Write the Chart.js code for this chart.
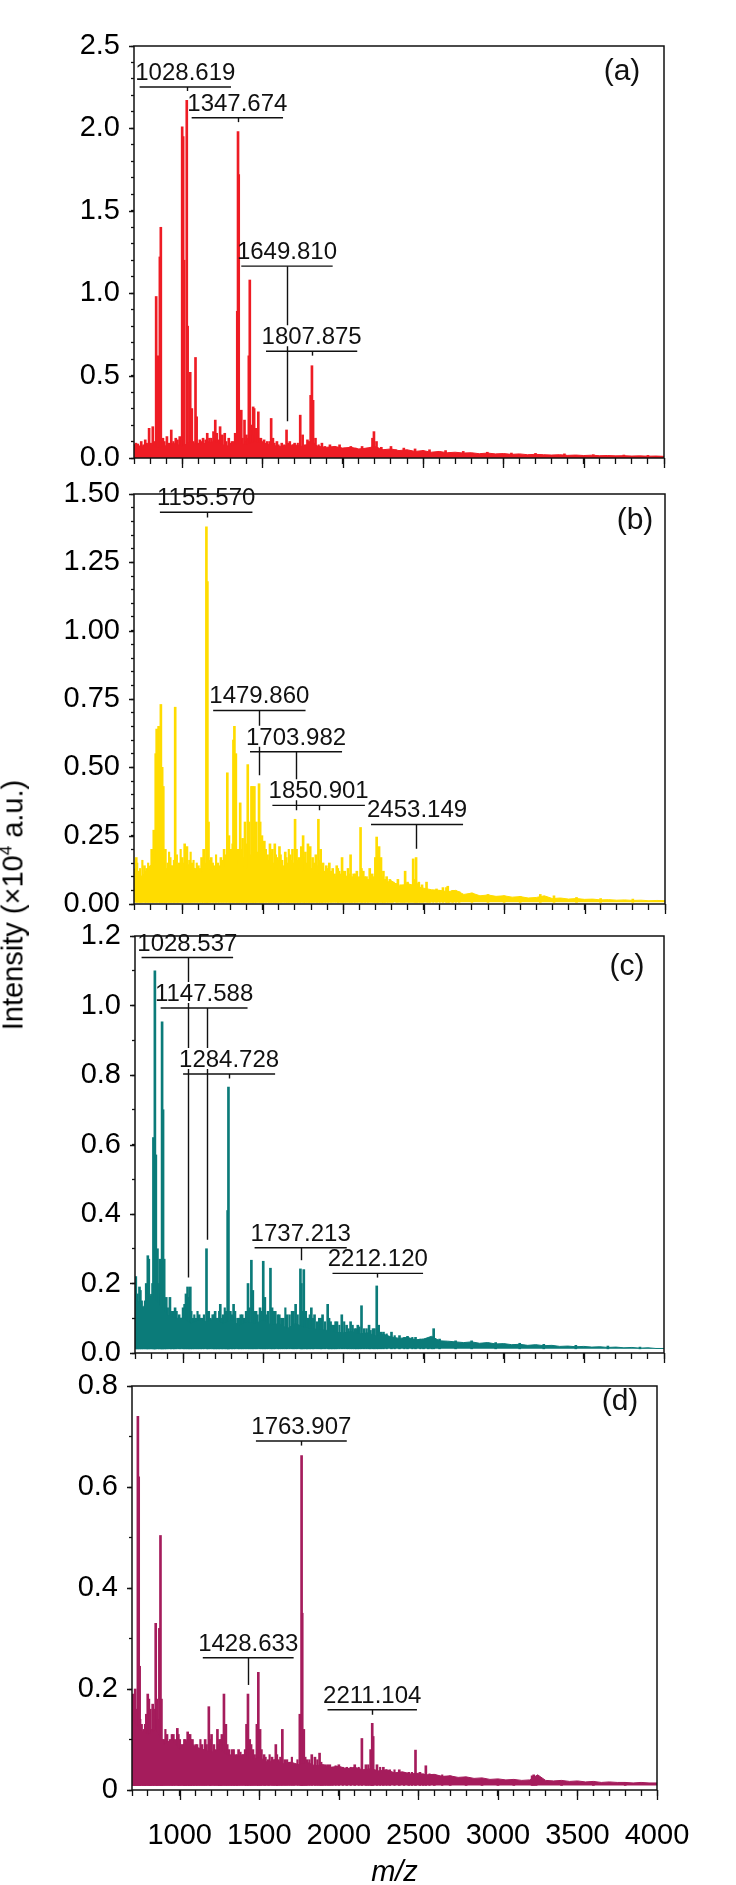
<!DOCTYPE html>
<html>
<head>
<meta charset="utf-8">
<script src="https://cdn.jsdelivr.net/npm/chart.js@4.4.1/dist/chart.umd.min.js"></script>
<style>
  body { margin: 0; background: #fff; }
  #wrap { position: relative; width: 736px; height: 1885px; overflow: hidden; background: #fff; }
  #wrap canvas { position: absolute; left: 0; }
  #ytitle {
    position: absolute; left: 13px; top: 905px;
    font: 29px 'Liberation Sans', Arial, sans-serif; line-height: 1; white-space: nowrap;
    transform: translate(-50%, -50%) rotate(-90deg);
  }
  #ytitle sup { font-size: 17px; vertical-align: 11px; line-height: 0; }
</style>
</head>
<body>
<div id="wrap">
  <canvas id="panelA"></canvas>
  <canvas id="panelB"></canvas>
  <canvas id="panelC"></canvas>
  <canvas id="panelD"></canvas>
  <div id="ytitle">Intensity (×10<sup>4</sup> a.u.)</div>
</div>
<script>
// m/z grid for the baseline noise envelope
const noiseMz = [700,750,800,850,900,950,1000,1050,1100,1150,1200,1250,1300,1350,1400,1450,1500,1550,1600,1650,
  1700,1750,1800,1850,1900,1950,2000,2050,2100,2150,2200,2250,2300,2350,2400,2450,2500,2550,2600,2650,
  2700,2750,2800,2850,2900,2950,3000,3050,3100,3150,3200,3250,3300,3350,3400,3450,3500,3550,3600,3650,
  3700,3750,3800,3850,3900,3950,4000];

// noise envelope (upper edge) per spectrum, x10^4 a.u.
const noiseA = [0.08,0.07,0.085,0.06,0.075,0.09,0.07,0.1,0.08,0.09,0.1,0.08,0.07,0.09,0.08,0.1,0.09,0.08,0.07,0.075,
  0.08,0.07,0.09,0.07,0.065,0.07,0.06,0.065,0.055,0.06,0.07,0.05,0.055,0.045,0.05,0.04,0.045,0.035,0.04,0.032,
  0.035,0.03,0.032,0.026,0.03,0.025,0.027,0.022,0.025,0.02,0.022,0.02,0.018,0.02,0.016,0.018,0.015,0.017,0.014,0.015,
  0.013,0.014,0.012,0.013,0.011,0.012,0.01];
const noiseB = [0.13,0.1,0.14,0.16,0.11,0.14,0.12,0.15,0.11,0.13,0.12,0.14,0.13,0.15,0.13,0.16,0.12,0.14,0.13,0.12,
  0.14,0.12,0.13,0.11,0.12,0.1,0.11,0.09,0.1,0.085,0.1,0.075,0.085,0.065,0.075,0.065,0.058,0.052,0.05,0.045,
  0.05,0.035,0.04,0.03,0.033,0.028,0.03,0.025,0.027,0.022,0.024,0.03,0.02,0.022,0.018,0.02,0.017,0.018,0.015,0.016,
  0.014,0.015,0.013,0.014,0.012,0.013,0.012];
const noiseC = [0.16,0.13,0.17,0.14,0.11,0.1,0.1,0.085,0.095,0.09,0.1,0.085,0.095,0.08,0.09,0.085,0.095,0.08,0.085,0.07,
  0.085,0.075,0.07,0.068,0.065,0.06,0.058,0.062,0.055,0.058,0.05,0.054,0.046,0.042,0.045,0.038,0.04,0.048,0.035,0.034,
  0.032,0.03,0.032,0.028,0.03,0.026,0.027,0.024,0.025,0.022,0.024,0.021,0.022,0.019,0.02,0.018,0.019,0.017,0.018,0.016,
  0.017,0.015,0.016,0.014,0.015,0.013,0.013];
const noiseD = [0.14,0.12,0.11,0.12,0.09,0.1,0.08,0.1,0.085,0.08,0.075,0.08,0.07,0.065,0.07,0.06,0.065,0.055,0.06,0.052,
  0.055,0.05,0.055,0.048,0.05,0.045,0.047,0.042,0.045,0.04,0.042,0.038,0.04,0.034,0.036,0.032,0.033,0.03,0.031,0.027,
  0.028,0.025,0.026,0.023,0.024,0.021,0.022,0.02,0.021,0.019,0.02,0.03,0.019,0.018,0.019,0.017,0.018,0.016,0.017,0.015,
  0.016,0.015,0.015,0.014,0.015,0.014,0.014];

// peaks: [m/z, intensity]
const peaksA = [[712,0.09],[745,0.1],[770,0.11],[794,0.18],[817,0.19],[838,0.98],[848,0.62],[861,1.22],[867,1.4],[880,0.12],
  [905,0.13],[932,0.17],[960,0.12],[985,0.13],[1000,2.01],[1006,1.95],[1012,1.2],[1028.6,2.17],[1034,0.8],[1050,0.52],
  [1060,0.3],[1083,0.61],[1090,0.25],[1110,0.11],[1130,0.12],[1156,0.15],[1170,0.12],[1195,0.16],[1206,0.23],[1215,0.15],
  [1236,0.19],[1250,0.14],[1265,0.15],[1290,0.12],[1310,0.1],[1330,0.15],[1343,0.89],[1347.7,1.98],[1352,1.72],[1368,0.29],
  [1375,0.12],[1388,0.23],[1400,0.14],[1415,0.62],[1421,1.08],[1430,0.2],[1442,0.31],[1448,0.3],[1460,0.18],[1474,0.28],
  [1490,0.12],[1510,0.11],[1530,0.1],[1554,0.24],[1565,0.12],[1590,0.1],[1620,0.09],[1649.8,0.17],[1670,0.1],[1700,0.09],
  [1735,0.26],[1750,0.14],[1780,0.11],[1800,0.38],[1807.9,0.56],[1815,0.35],[1830,0.12],[1870,0.09],[1920,0.08],[1980,0.08],
  [2050,0.07],[2120,0.07],[2185,0.12],[2194,0.16],[2210,0.1],[2240,0.065],[2300,0.07],[2380,0.06],[2450,0.055],[2540,0.05],
  [2640,0.045],[2750,0.04],[2900,0.035],[3050,0.03],[3200,0.028],[3380,0.025],[3560,0.02],[3750,0.018],[3900,0.016]];
const peaksB = [[714,0.17],[730,0.12],[745,0.1],[765,0.14],[779,0.13],[795,0.11],[810,0.2],[823,0.27],[835,0.55],[841,0.64],
  [853,0.65],[861,0.56],[867,0.73],[875,0.5],[882,0.43],[895,0.2],[910,0.15],[925,0.17],[940,0.14],[956,0.72],
  [965,0.18],[980,0.15],[1000,0.17],[1015,0.22],[1029,0.21],[1045,0.16],[1060,0.15],[1080,0.13],[1100,0.14],[1120,0.17],
  [1133,0.2],[1150,1.38],[1156,1.18],[1163,0.3],[1180,0.17],[1200,0.14],[1220,0.15],[1240,0.17],[1260,0.2],[1280,0.48],
  [1290,0.25],[1305,0.2],[1318,0.6],[1324,0.65],[1333,0.55],[1345,0.2],[1360,0.37],[1375,0.24],[1390,0.3],[1407,0.51],
  [1415,0.3],[1430,0.43],[1436,0.43],[1448,0.43],[1460,0.3],[1477,0.44],[1484,0.3],[1495,0.25],[1510,0.23],[1530,0.18],
  [1545,0.22],[1560,0.2],[1575,0.22],[1590,0.17],[1604,0.21],[1620,0.16],[1640,0.19],[1655,0.15],[1670,0.18],[1685,0.2],
  [1701,0.31],[1710,0.2],[1725,0.17],[1740,0.21],[1751,0.25],[1765,0.19],[1781,0.22],[1795,0.21],[1810,0.17],[1830,0.18],
  [1846,0.31],[1860,0.2],[1875,0.15],[1895,0.14],[1914,0.15],[1935,0.13],[1960,0.14],[1975,0.12],[1993,0.17],[2010,0.12],
  [2030,0.13],[2046,0.18],[2065,0.11],[2085,0.12],[2108,0.28],[2125,0.12],[2145,0.1],[2165,0.13],[2180,0.11],[2200,0.17],
  [2208,0.245],[2223,0.21],[2235,0.17],[2250,0.12],[2270,0.1],[2290,0.09],[2310,0.08],[2340,0.09],[2365,0.07],[2385,0.12],
  [2400,0.08],[2420,0.07],[2435,0.165],[2453,0.17],[2470,0.08],[2490,0.07],[2518,0.08],[2540,0.05],[2580,0.055],[2620,0.06],
  [2650,0.065],[2680,0.05],[2720,0.045],[2800,0.04],[2900,0.035],[3000,0.03],[3100,0.028],[3225,0.035],[3310,0.03],[3450,0.024],
  [3600,0.02],[3800,0.018]];
const peaksC = [[705,0.22],[715,0.17],[728,0.19],[741,0.15],[755,0.13],[770,0.2],[780,0.28],[786,0.27],[800,0.14],[815,0.62],
  [824,1.1],[830,0.57],[840,0.3],[855,0.27],[869,0.953],[875,0.7],[882,0.27],[895,0.16],[918,0.16],[935,0.12],
  [950,0.13],[975,0.11],[1000,0.13],[1018,0.17],[1028,0.19],[1045,0.19],[1060,0.1],[1080,0.1],[1100,0.11],[1120,0.1],
  [1146,0.3],[1160,0.12],[1185,0.11],[1200,0.12],[1215,0.1],[1232,0.14],[1250,0.11],[1270,0.12],[1278,0.41],[1283,0.765],
  [1295,0.12],[1315,0.14],[1340,0.1],[1360,0.11],[1380,0.1],[1405,0.2],[1426,0.267],[1435,0.18],[1455,0.12],[1480,0.13],
  [1500,0.264],[1510,0.16],[1530,0.12],[1545,0.244],[1555,0.13],[1575,0.12],[1600,0.11],[1625,0.1],[1650,0.11],[1680,0.12],
  [1702,0.14],[1732,0.242],[1738,0.2],[1753,0.24],[1765,0.12],[1780,0.1],[1800,0.13],[1820,0.11],[1850,0.1],[1870,0.11],
  [1902,0.14],[1920,0.09],[1940,0.08],[1960,0.09],[1990,0.11],[2020,0.08],[2045,0.09],[2070,0.07],[2090,0.08],[2113,0.136],
  [2130,0.07],[2160,0.08],[2185,0.07],[2208,0.193],[2220,0.08],[2250,0.06],[2300,0.06],[2350,0.05],[2400,0.048],[2450,0.045],
  [2500,0.04],[2530,0.04],[2563,0.07],[2600,0.04],[2700,0.035],[2800,0.035],[2950,0.03],[3100,0.028],[3250,0.025],[3450,0.022],
  [3650,0.02],[3850,0.017]];
const peaksD = [[705,0.19],[710,0.15],[720,0.2],[730,0.15],[737,0.74],[742,0.62],[748,0.245],[760,0.13],[775,0.12],[790,0.15],
  [799,0.19],[806,0.18],[815,0.16],[830,0.17],[849,0.33],[855,0.18],[872,0.32],[879,0.504],[885,0.18],[900,0.1],
  [920,0.11],[940,0.1],[960,0.11],[985,0.122],[1000,0.1],[1020,0.09],[1035,0.1],[1050,0.115],[1065,0.11],[1080,0.1],
  [1100,0.09],[1120,0.08],[1140,0.09],[1160,0.1],[1183,0.165],[1200,0.11],[1215,0.09],[1237,0.12],[1250,0.1],[1265,0.11],
  [1278,0.19],[1290,0.13],[1310,0.08],[1330,0.08],[1350,0.07],[1370,0.08],[1395,0.07],[1420,0.13],[1429,0.19],[1440,0.1],
  [1460,0.08],[1485,0.13],[1494,0.233],[1505,0.12],[1530,0.07],[1555,0.06],[1580,0.065],[1604,0.09],[1620,0.06],[1645,0.12],
  [1660,0.06],[1690,0.055],[1720,0.05],[1755,0.15],[1766,0.662],[1770,0.35],[1780,0.12],[1800,0.06],[1830,0.07],[1850,0.065],
  [1879,0.073],[1900,0.05],[1930,0.05],[1960,0.045],[2000,0.05],[2050,0.045],[2100,0.05],[2145,0.102],[2170,0.05],[2200,0.08],
  [2210,0.132],[2216,0.106],[2240,0.05],[2280,0.045],[2320,0.04],[2380,0.04],[2440,0.035],[2482,0.079],[2510,0.035],[2547,0.048],
  [2600,0.03],[2700,0.028],[2800,0.025],[2900,0.022],[3000,0.02],[3100,0.02],[3215,0.028],[3225,0.03],[3240,0.026],[3400,0.018],
  [3600,0.016],[3800,0.015]];

// small noise spikes ("grass") between the main peaks: [m/z, intensity]
const grassA = [[705,0.08],[725,0.085],[758,0.08],[780,0.09],[805,0.09],[828,0.1],[890,0.1],[918,0.09],[945,0.1],[972,0.11],
  [995,0.12],[1070,0.1],[1100,0.09],[1120,0.1],[1145,0.11],[1160,0.1],[1182,0.12],[1225,0.11],[1245,0.13],[1275,0.1],
  [1300,0.09],[1320,0.1],[1360,0.12],[1395,0.1],[1408,0.12],[1437,0.14],[1468,0.15],[1480,0.12],[1500,0.1],[1520,0.09],
  [1545,0.1],[1575,0.09],[1600,0.08],[1635,0.08],[1660,0.09],[1690,0.08],[1720,0.09],[1765,0.08],[1790,0.1],[1825,0.09],
  [1850,0.08],[1890,0.07],[1950,0.07],[2010,0.06],[2080,0.06],[2150,0.06],[2260,0.05],[2330,0.05],[2420,0.045],[2500,0.045]];
const grassB = [[720,0.15],[738,0.13],[752,0.16],[772,0.12],[788,0.15],[803,0.14],[818,0.18],[890,0.16],[902,0.13],[918,0.19],
  [932,0.14],[948,0.16],[972,0.14],[990,0.2],[1008,0.15],[1022,0.17],[1038,0.14],[1052,0.19],[1070,0.16],[1090,0.15],
  [1110,0.13],[1126,0.16],[1142,0.15],[1170,0.16],[1190,0.15],[1210,0.18],[1230,0.14],[1250,0.16],[1270,0.18],[1298,0.17],
  [1312,0.22],[1340,0.19],[1352,0.16],[1368,0.2],[1382,0.17],[1398,0.22],[1422,0.18],[1442,0.25],[1455,0.2],[1468,0.19],
  [1490,0.22],[1502,0.17],[1520,0.2],[1538,0.16],[1552,0.19],[1568,0.15],[1582,0.18],[1597,0.16],[1612,0.18],[1630,0.14],
  [1648,0.17],[1662,0.2],[1678,0.16],[1693,0.15],[1718,0.16],[1733,0.14],[1758,0.17],[1773,0.15],[1788,0.16],[1803,0.13],
  [1820,0.15],[1838,0.14],[1853,0.16],[1868,0.13],[1885,0.12],[1905,0.13],[1925,0.12],[1948,0.11],[1968,0.13],[1985,0.11],
  [2000,0.12],[2020,0.1],[2040,0.11],[2055,0.1],[2075,0.11],[2095,0.09],[2115,0.13],[2135,0.1],[2155,0.09],[2190,0.1],
  [2215,0.13],[2245,0.1],[2260,0.09],[2280,0.08],[2300,0.07],[2330,0.075],[2355,0.07],[2375,0.065],[2410,0.06],[2445,0.09],
  [2460,0.075],[2480,0.06],[2500,0.055],[2530,0.05],[2560,0.045],[2600,0.05],[2640,0.06],[2660,0.045],[2700,0.04]];
const grassC = [[710,0.16],[722,0.14],[735,0.18],[748,0.13],[762,0.15],[775,0.17],[792,0.16],[808,0.2],[820,0.22],[848,0.2],
  [862,0.17],[890,0.14],[905,0.13],[925,0.12],[942,0.11],[960,0.12],[985,0.1],[1008,0.14],[1036,0.16],[1052,0.12],
  [1070,0.11],[1090,0.12],[1110,0.1],[1130,0.11],[1152,0.12],[1172,0.1],[1192,0.11],[1208,0.1],[1225,0.12],[1242,0.1],
  [1260,0.13],[1305,0.11],[1325,0.12],[1350,0.1],[1370,0.11],[1392,0.12],[1415,0.13],[1445,0.12],[1465,0.11],[1490,0.12],
  [1520,0.11],[1565,0.12],[1590,0.11],[1612,0.1],[1638,0.13],[1665,0.11],[1690,0.12],[1715,0.11],[1745,0.12],[1772,0.1],
  [1790,0.11],[1810,0.1],[1835,0.09],[1860,0.1],[1885,0.09],[1912,0.1],[1930,0.08],[1950,0.09],[1975,0.08],[2005,0.09],
  [2032,0.07],[2058,0.08],[2080,0.07],[2100,0.075],[2145,0.07],[2170,0.065],[2195,0.07],[2235,0.06],[2270,0.055],[2320,0.05],
  [2380,0.045],[2430,0.045],[2480,0.04],[2550,0.045]];
const grassD = [[715,0.13],[725,0.16],[752,0.14],[768,0.11],[782,0.13],[812,0.15],[822,0.12],[838,0.16],[862,0.14],[892,0.1],
  [910,0.12],[930,0.09],[950,0.11],[970,0.1],[993,0.11],[1010,0.09],[1028,0.1],[1042,0.09],[1058,0.11],[1072,0.1],
  [1090,0.085],[1110,0.09],[1130,0.1],[1150,0.08],[1170,0.09],[1192,0.1],[1225,0.08],[1245,0.09],[1258,0.1],[1300,0.09],
  [1320,0.07],[1340,0.08],[1360,0.07],[1382,0.075],[1410,0.08],[1450,0.09],[1472,0.07],[1515,0.08],[1540,0.065],[1565,0.07],
  [1592,0.06],[1612,0.07],[1632,0.065],[1675,0.06],[1705,0.065],[1740,0.06],[1790,0.065],[1815,0.06],[1865,0.06],[1890,0.055],
  [1915,0.05],[1945,0.05],[1980,0.048],[2025,0.045],[2075,0.045],[2125,0.045],[2185,0.05],[2260,0.045],[2300,0.04],[2350,0.04],
  [2410,0.035],[2460,0.035],[2530,0.032],[2570,0.032],[2650,0.03]];

// peak labels: text, line from underline (lineY) down to tipY at m/z, underline spans from..to (m/z)
const labelsA = [
  { text: '1028.619', mz: 1028.619, lineY: 2.251, tipY: 2.227, from: 735, to: 1304 },
  { text: '1347.674', mz: 1347.674, lineY: 2.065, tipY: 2.038, from: 1059, to: 1628 },
  { text: '1649.810', mz: 1649.810, lineY: 1.164, tipY: 0.223, from: 1368, to: 1937 },
  { text: '1807.875', mz: 1807.875, lineY: 0.648, tipY: 0.621, from: 1522, to: 2090 }
];
const labelsB = [
  { text: '1155.570', mz: 1155.570, lineY: 1.433, tipY: 1.414, from: 861, to: 1436 },
  { text: '1479.860', mz: 1479.860, lineY: 0.708, tipY: 0.471, from: 1192, to: 1766 },
  { text: '1703.982', mz: 1703.982, lineY: 0.557, tipY: 0.343, from: 1421, to: 1993 },
  { text: '1850.901', mz: 1850.901, lineY: 0.361, tipY: 0.343, from: 1560, to: 2135 },
  { text: '2453.149', mz: 2453.149, lineY: 0.291, tipY: 0.202, from: 2173, to: 2745 }
];
const labelsC = [
  { text: '1028.537', mz: 1028.537, lineY: 1.138, tipY: 0.217, from: 741, to: 1312 },
  { text: '1147.588', mz: 1147.588, lineY: 0.993, tipY: 0.326, from: 860, to: 1402 },
  { text: '1284.728', mz: 1284.728, lineY: 0.803, tipY: 0.790, from: 1000, to: 1574 },
  { text: '1737.213', mz: 1737.213, lineY: 0.303, tipY: 0.267, from: 1446, to: 2021 },
  { text: '2212.120', mz: 2212.120, lineY: 0.229, tipY: 0.217, from: 1932, to: 2497 }
];
const labelsD = [
  { text: '1763.907', mz: 1763.907, lineY: 0.691, tipY: 0.682, from: 1479, to: 2050 },
  { text: '1428.633', mz: 1428.633, lineY: 0.262, tipY: 0.208, from: 1145, to: 1716 },
  { text: '2211.104', mz: 2211.104, lineY: 0.159, tipY: 0.149, from: 1929, to: 2491 }
];

const xMajorTicks = [1000, 1500, 2000, 2500, 3000, 3500, 4000];
const FONT = "'Liberation Sans', Arial, sans-serif";

// frame, longer major ticks, panel letter and peak labels
const decoPlugin = {
  id: 'deco',
  afterDraw(chart, args, opts) {
    const ctx = chart.ctx;
    const area = chart.chartArea;
    const xs = chart.scales.x, ys = chart.scales.y;
    ctx.save();
    ctx.strokeStyle = '#111';
    ctx.fillStyle = '#111';

    // major ticks
    ctx.lineWidth = 1.3;
    ctx.beginPath();
    xMajorTicks.forEach(v => {
      const px = Math.round(xs.getPixelForValue(v)) + 0.5;
      ctx.moveTo(px, area.bottom); ctx.lineTo(px, area.bottom + 10);
    });
    opts.yMajor.forEach(v => {
      const py = Math.round(ys.getPixelForValue(v)) + 0.5;
      ctx.moveTo(area.left, py); ctx.lineTo(area.left - 5, py);
    });
    ctx.stroke();

    // frame
    ctx.lineWidth = 1.5;
    ctx.strokeRect(area.left, area.top, area.right - area.left, area.bottom - area.top);

    // peak labels
    ctx.font = '24px ' + FONT;
    const boxes = opts.labels.map(l => {
      const x0 = xs.getPixelForValue(l.from), x1 = xs.getPixelForValue(l.to);
      const yl = ys.getPixelForValue(l.lineY);
      const w = ctx.measureText(l.text).width;
      const cx = (x0 + x1) / 2;
      return { cx, base: yl - 7, l: cx - w / 2, r: cx + w / 2, t: yl - 26, b: yl - 5 };
    });
    ctx.lineWidth = 1.4;
    opts.labels.forEach((l, i) => {
      const x0 = xs.getPixelForValue(l.from), x1 = xs.getPixelForValue(l.to);
      const yl = ys.getPixelForValue(l.lineY);
      const yt = ys.getPixelForValue(l.tipY);
      const xm = Math.round(xs.getPixelForValue(l.mz)) + 0.5;
      ctx.beginPath();
      ctx.moveTo(x0, yl); ctx.lineTo(x1, yl);
      ctx.stroke();
      // vertical line, broken where it crosses another label's text
      const gaps = boxes.filter((b, j) => j !== i && xm > b.l && xm < b.r && b.b > yl && b.t < yt)
        .sort((a, b) => a.t - b.t);
      let y = yl;
      ctx.beginPath();
      gaps.forEach(g => { ctx.moveTo(xm, y); ctx.lineTo(xm, g.t); y = g.b; });
      ctx.moveTo(xm, y); ctx.lineTo(xm, yt);
      ctx.stroke();
    });
    ctx.textAlign = 'center';
    ctx.textBaseline = 'alphabetic';
    opts.labels.forEach((l, i) => ctx.fillText(l.text, boxes[i].cx, boxes[i].base));

    // panel letter
    ctx.font = '30px ' + FONT;
    ctx.textBaseline = 'middle';
    ctx.fillText(opts.letter, area.right - opts.letterDx, area.top + opts.letterDy);
    ctx.restore();
  }
};

function fmt(v, dec) {
  return v.toFixed(dec);
}

function makePanel(id, p) {
  const canvas = document.getElementById(id);
  const cTop = p.top - 40;
  const cBottom = p.last ? 1885 : p.bottom + 30;
  canvas.width = 736;
  canvas.height = cBottom - cTop;
  canvas.style.top = cTop + 'px';

  const envelope = noiseMz.map((m, i) => ({ x: m, y: p.noise[i] }));
  const sticks = p.peaks.map(pk => ({ x: pk[0], y: pk[1] }));
  const grass = p.grass.map(pk => ({ x: pk[0], y: pk[1] }));

  return new Chart(canvas, {
    type: 'bar',
    data: {
      datasets: [
        {
          type: 'line',
          data: envelope,
          borderColor: p.color,
          backgroundColor: p.color,
          borderWidth: 1,
          pointRadius: 0,
          tension: 0,
          fill: { value: p.base }
        },
        {
          type: 'bar',
          data: grass,
          backgroundColor: p.color,
          borderWidth: 0,
          barThickness: 1.5,
          grouped: false,
          base: p.base
        },
        {
          type: 'bar',
          data: sticks,
          backgroundColor: p.color,
          borderWidth: 0,
          barThickness: 2,
          grouped: false,
          base: p.base
        }
      ]
    },
    options: {
      responsive: false,
      animation: false,
      events: [],
      layout: { padding: { top: 40, left: 0, right: 736 - p.right, bottom: 0 } },
      plugins: {
        legend: { display: false },
        tooltip: { enabled: false },
        deco: { labels: p.labels, letter: p.letter, letterDx: p.letterDx, letterDy: p.letterDy, yMajor: p.yMajor }
      },
      scales: {
        x: {
          type: 'linear',
          min: 700,
          max: 4000,
          offset: false,
          border: { display: false },
          grid: { offset: false, drawOnChartArea: false, color: '#111', tickLength: 6, tickWidth: 1.3 },
          ticks: {
            stepSize: 100,
            maxTicksLimit: 100,
            autoSkip: false,
            maxRotation: 0,
            minRotation: 0,
            padding: 23,
            color: '#000',
            font: { family: FONT, size: 29 },
            callback: v => (p.last && xMajorTicks.includes(v)) ? String(v) : ''
          },
          title: {
            display: !!p.last,
            text: 'm/z',
            color: '#000',
            font: { family: FONT, size: 29, style: 'italic' },
            padding: { top: 0, bottom: -5 }
          },
          afterFit: s => { s.height = cBottom - p.bottom; }
        },
        y: {
          min: 0,
          max: p.yMax,
          border: { display: false },
          grid: { drawOnChartArea: false, color: '#111', tickLength: 3, tickWidth: 1.3 },
          ticks: {
            stepSize: p.yMinor,
            maxTicksLimit: 100,
            autoSkip: false,
            padding: 11,
            color: '#000',
            font: { family: FONT, size: 29 },
            callback: v => {
              const hit = p.yMajor.find(m => Math.abs(m - v) < 1e-6);
              if (hit === undefined) return '';
              return p.yFormat(hit);
            }
          },
          afterFit: s => { s.width = p.left; }
        }
      }
    },
    plugins: [decoPlugin]
  });
}

makePanel('panelA', {
  top: 46, bottom: 458, left: 134, right: 664,
  color: '#ee1c24', base: 0, noise: noiseA, peaks: peaksA, grass: grassA, labels: labelsA,
  yMax: 2.5, yMinor: 0.1, yMajor: [0, 0.5, 1.0, 1.5, 2.0, 2.5], yFormat: v => fmt(v, 1),
  letter: '(a)', letterDx: 42, letterDy: 26
});
makePanel('panelB', {
  top: 494, bottom: 904, left: 134, right: 665,
  color: '#ffdc00', base: 0.006, noise: noiseB, peaks: peaksB, grass: grassB, labels: labelsB,
  yMax: 1.5, yMinor: 0.05, yMajor: [0, 0.25, 0.5, 0.75, 1.0, 1.25, 1.5], yFormat: v => fmt(v, 2),
  letter: '(b)', letterDx: 30, letterDy: 27
});
makePanel('panelC', {
  top: 936, bottom: 1353, left: 135, right: 664,
  color: '#0b7b79', base: 0.012, noise: noiseC, peaks: peaksC, grass: grassC, labels: labelsC,
  yMax: 1.2, yMinor: 0.1, yMajor: [0, 0.2, 0.4, 0.6, 0.8, 1.0, 1.2], yFormat: v => fmt(v, 1),
  letter: '(c)', letterDx: 37, letterDy: 31
});
makePanel('panelD', {
  top: 1386, bottom: 1790, left: 132, right: 657, last: true,
  color: '#a51c5c', base: 0.009, noise: noiseD, peaks: peaksD, grass: grassD, labels: labelsD,
  yMax: 0.8, yMinor: 0.1, yMajor: [0, 0.2, 0.4, 0.6, 0.8], yFormat: v => (v === 0 ? '0' : fmt(v, 1)),
  letter: '(d)', letterDx: 37, letterDy: 16
});
</script>
</body>
</html>
